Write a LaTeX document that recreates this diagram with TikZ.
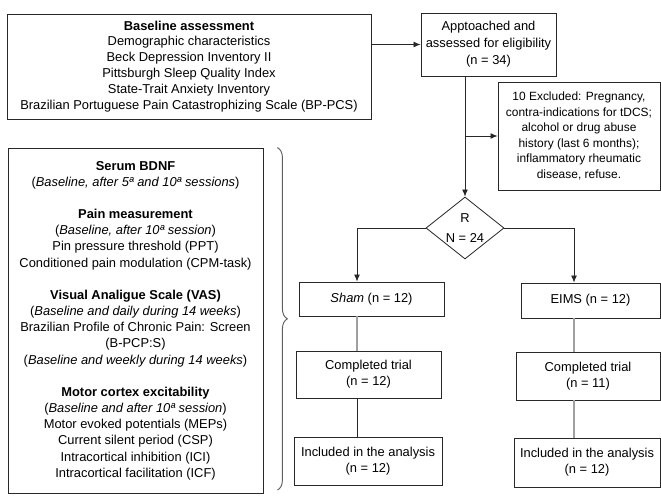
\documentclass[tikz,border=0pt]{standalone}
\usepackage{fontspec}
\setmainfont{Liberation Sans}
\usepackage{xcolor}
\definecolor{boxline}{RGB}{40,40,40}
\definecolor{lightline}{RGB}{160,160,160}
\definecolor{bracegray}{RGB}{95,95,95}
\usepackage{tikz}
\usetikzlibrary{shapes.geometric,decorations.pathreplacing,arrows.meta}
\tikzset{
  flowbox/.style={draw=boxline,line width=0.7pt,align=center,inner sep=2pt,
    font=\fontsize{11}{13.6}\selectfont},
  flowarrow/.style={draw=boxline,line width=0.7pt,-{Latex[length=6pt,width=5pt]}},
  flowline/.style={draw=boxline,line width=0.7pt},
  greyline/.style={draw=lightline,line width=0.9pt}
}
\newcommand{\boxhead}[1]{{\bfseries\fontsize{11}{13.6}\selectfont #1}}

\begin{document}
\begin{tikzpicture}[x=0.03cm,y=-0.03cm]
  \useasboundingbox (0,0) rectangle (661,495);

  \node[flowbox,minimum width=10.92cm,minimum height=3.15cm] (base) at (189,66.5) {
    \boxhead{Baseline assessment}\\
    Demographic characteristics\\
    Beck Depression Inventory II\\
    Pittsburgh Sleep Quality Index\\
    State-Trait Anxiety Inventory\\
    Brazilian Portuguese Pain Catastrophizing Scale (BP-PCS)
  };

  \node[flowbox,minimum width=4.05cm,minimum height=1.89cm,
    font=\fontsize{11}{14.6}\selectfont] (approached) at (488.5,44.5) {
    Apptoached and\\assessed for eligibility\\(n = 34)
  };

  \node[flowbox,minimum width=4.86cm,minimum height=3.24cm,
    font=\fontsize{10.2}{13.3}\selectfont] (excluded) at (579,136) {
    10 Excluded: Pregnancy,\\
    contra-indications for tDCS;\\
    alcohol or drug abuse\\
    history (last 6 months);\\
    inflammatory rheumatic\\
    disease, refuse.
  };

  \node[flowbox,shape=diamond,shape aspect=1.26,inner sep=0pt,
    minimum width=2.34cm,minimum height=1.86cm] (random) at (465,228) {
    R\\[4pt]N = 24
  };

  \node[flowbox,minimum width=4.35cm,minimum height=1.02cm] (sham) at (371.5,299) {\textit{Sham} (n = 12)};
  \node[flowbox,minimum width=4.17cm,minimum height=1.05cm] (eims) at (590.5,300.5) {EIMS (n = 12)};

  \node[flowbox,minimum width=4.35cm,minimum height=1.41cm] (shamdone) at (368.5,374.5) {Completed trial\\(n = 12)};
  \node[flowbox,minimum width=4.32cm,minimum height=1.44cm] (eimsdone) at (588,376) {Completed trial\\(n = 11)};

  \node[flowbox,minimum width=4.44cm,minimum height=1.44cm] (shamincl) at (368,461) {Included in the analysis\\(n = 12)};
  \node[flowbox,minimum width=4.38cm,minimum height=1.47cm] (eimsincl) at (587,462.5) {Included in the analysis\\(n = 12)};

  \node[flowbox,minimum width=7.65cm,minimum height=10.35cm,
    font=\fontsize{11}{13.8}\selectfont] (measures) at (135.5,320.5) {
    \boxhead{Serum BDNF}\\
    (\textit{Baseline, after 5ª and 10ª sessions})\\[13.8pt]
    \boxhead{Pain measurement}\\
    (\textit{Baseline, after 10ª session})\\
    Pin pressure threshold (PPT)\\
    Conditioned pain modulation (CPM-task)\\[13.8pt]
    \boxhead{Visual Analigue Scale (VAS)}\\
    (\textit{Baseline and daily during 14 weeks})\\
    Brazilian Profile of Chronic Pain: Screen\\
    (B-PCP:S)\\
    (\textit{Baseline and weekly during 14 weeks})\\[13.8pt]
    \boxhead{Motor cortex excitability}\\
    (\textit{Baseline and after 10ª session})\\
    Motor evoked potentials (MEPs)\\
    Current silent period (CSP)\\
    Intracortical inhibition (ICI)\\
    Intracortical facilitation (ICF)
  };

  \coordinate (lcol) at (357,0);
  \coordinate (rcol) at (574,0);

  \draw[flowarrow] (base.east |- approached.west) -- (approached.west);
  \draw[flowarrow] (random.north |- approached.south) -- (random.north);
  \draw[flowarrow] (random.north |- excluded.west) -- (excluded.west);
  \draw[flowarrow] (random.west) -| (lcol |- sham.north);
  \draw[flowarrow] (random.east) -| (rcol |- eims.north);
  \draw[greyline] (lcol |- sham.south) -- (lcol |- shamdone.north);
  \draw[flowline] (lcol |- shamdone.south) -- (lcol |- shamincl.north);
  \draw[greyline] (rcol |- eims.south) -- (rcol |- eimsdone.north);
  \draw[greyline] (rcol |- eimsdone.south) -- (rcol |- eimsincl.north);

  \draw[bracegray,line width=0.8pt,decorate,decoration={brace,amplitude=0.3cm}]
    ([xshift=0.42cm]measures.north east) -- ([xshift=0.42cm,yshift=0.1cm]measures.south east);
\end{tikzpicture}
\end{document}
